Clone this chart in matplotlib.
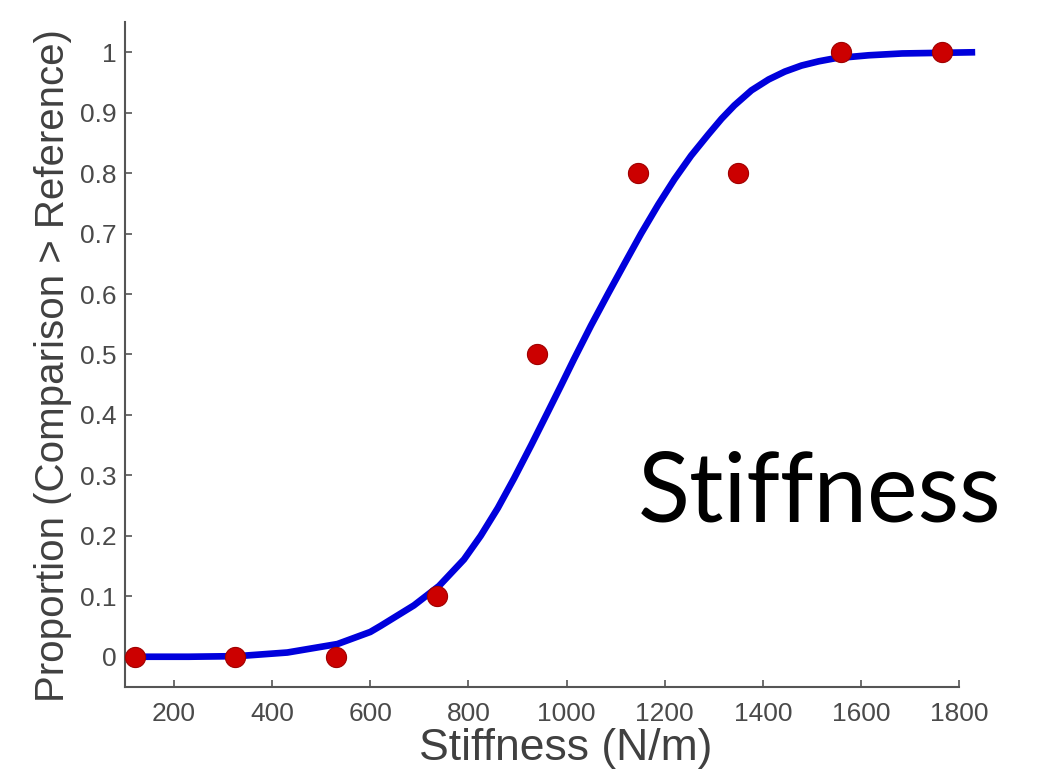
import matplotlib
matplotlib.use("Agg")
import matplotlib.pyplot as plt

# stimulus levels and observed proportions
stiffness = [120, 325, 530, 735, 940, 1145, 1350, 1560, 1765]
proportion = [0.0, 0.0, 0.0, 0.1, 0.5, 0.8, 0.8, 1.0, 1.0]

# fitted psychometric curve
fit_x = [110, 230, 330, 431, 533, 600, 621, 689, 740, 791, 825, 860, 893, 928,
         962, 989, 1015, 1050, 1085, 1118, 1152, 1187, 1220, 1254, 1289, 1316,
         1342, 1377, 1412, 1445, 1479, 1514, 1547, 1616, 1684, 1760, 1833]
fit_y = [0.0, 0.0, 0.001, 0.007, 0.021, 0.041, 0.051, 0.085, 0.117, 0.161,
         0.200, 0.246, 0.295, 0.350, 0.405, 0.449, 0.492, 0.548, 0.601, 0.650,
         0.700, 0.748, 0.790, 0.829, 0.864, 0.890, 0.912, 0.937, 0.955, 0.968,
         0.978, 0.985, 0.990, 0.995, 0.998, 0.999, 1.0]

xticks = [200, 400, 600, 800, 1000, 1200, 1400, 1600, 1800]
yticks = [0, 0.1, 0.2, 0.3, 0.4, 0.5, 0.6, 0.7, 0.8, 0.9, 1]
ytick_labels = ["0", "0.1", "0.2", "0.3", "0.4", "0.5", "0.6", "0.7", "0.8", "0.9", "1"]

plt.rcParams["font.family"] = ["Liberation Sans", "DejaVu Sans"]

fig = plt.figure(figsize=(10.39, 7.73), dpi=100)
ax = fig.add_axes([0.1203, 0.1113, 0.8027, 0.8602])

ax.plot(fit_x, fit_y, color="#0000dc", linewidth=4.8, solid_capstyle="butt",
        solid_joinstyle="round", zorder=2, clip_on=False)
ax.plot(stiffness, proportion, "o", color="#cc0000", markersize=14.5,
        markeredgewidth=0.8, markeredgecolor="#a00000", zorder=3, clip_on=False)

ax.set_xlim(100, 1800)
ax.set_ylim(-0.05, 1.05)
ax.set_xticks(xticks)
ax.set_yticks(yticks)
ax.set_yticklabels(ytick_labels)

for side in ["top", "right"]:
    ax.spines[side].set_visible(False)
for side in ["left", "bottom"]:
    ax.spines[side].set_color("#555555")
    ax.spines[side].set_linewidth(1.5)

ax.tick_params(direction="in", length=5, width=1.2, color="#555555",
               labelcolor="#4a4a4a", labelsize=19)
ax.tick_params(axis="x", pad=11)
ax.tick_params(axis="y", pad=6)

ax.set_xlabel("Stiffness (N/m)", fontsize=32, color="#404040")
ax.set_ylabel("Proportion (Comparison > Reference)", fontsize=29, color="#404040")
ax.xaxis.set_label_coords(0.528, -0.062, transform=ax.transAxes)
ax.yaxis.set_label_coords(-0.063, 0.484, transform=ax.transAxes)

fig.text(0.6135, 0.325, "Stiffness", family=["Lato", "DejaVu Sans"], fontsize=69,
         color="black", ha="left", va="baseline")

fig.savefig("out.png", dpi=100)
plt.close(fig)
